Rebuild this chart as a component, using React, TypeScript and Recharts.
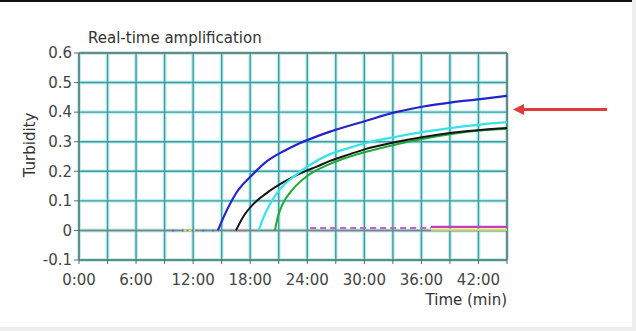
import { LineChart, Line, XAxis, YAxis, CartesianGrid, ReferenceLine } from "recharts";

// times in minutes, turbidity
const blueTime = [14.6, 15.6, 16.6, 18.1, 19.8, 21.5, 23.2, 25, 26.4, 30.1, 33.2, 36.2, 39.2, 42.2, 45];
const blueVals = [0, 0.072, 0.13, 0.184, 0.235, 0.268, 0.295, 0.318, 0.334, 0.37, 0.399, 0.419, 0.433, 0.444, 0.455];

const blackTime = [16.5, 17.3, 18.3, 19.8, 21.5, 23.2, 25, 26.4, 28.5, 30.1, 33.2, 36.2, 39.2, 42.2, 45];
const blackVals = [0, 0.048, 0.088, 0.128, 0.163, 0.192, 0.216, 0.235, 0.258, 0.275, 0.298, 0.316, 0.33, 0.34, 0.346];

const cyanTime = [18.9, 19.4, 20.1, 21.1, 22.5, 24.3, 26.4, 28.5, 30.1, 33.2, 36.2, 39.2, 42.2, 45];
const cyanVals = [0, 0.044, 0.09, 0.138, 0.18, 0.222, 0.258, 0.28, 0.295, 0.316, 0.333, 0.347, 0.358, 0.366];

const greenTime = [20.6, 20.9, 21.4, 22.5, 24, 25.7, 28.5, 30.1, 33.2, 36.2, 39.2, 42.2, 45];
const greenVals = [0, 0.045, 0.088, 0.14, 0.184, 0.215, 0.25, 0.265, 0.29, 0.31, 0.326, 0.338, 0.343];

// flat negative traces
const magentaDashTime = [24.3, 37];
const magentaDashVals = [0.008, 0.008];
const magentaTime = [37, 45];
const magentaVals = [0.012, 0.012];
const yellowTime = [37, 45];
const yellowVals = [0.002, 0.002];
const purpleDotTime = [9.8, 14.2];
const purpleDotVals = [0, 0];
const yellowDotTime = [11, 12.2];
const yellowDotVals = [0, 0];
const redDotTime = [16, 17.6];
const redDotVals = [0, 0];

const xTicks = [0, 3, 6, 9, 12, 15, 18, 21, 24, 27, 30, 33, 36, 39, 42, 45];
const xTickLabels = ["0:00", "", "6:00", "", "12:00", "", "18:00", "", "24:00", "", "30:00", "", "36:00", "", "42:00", ""];
const yTicks = [-0.1, 0, 0.1, 0.2, 0.3, 0.4, 0.5, 0.6];
const yTickLabels = ["-0.1", "0", "0.1", "0.2", "0.3", "0.4", "0.5", "0.6"];

const toRows = (ts: number[], vs: number[]) => ts.map((t, i) => ({ t, v: vs[i] }));

const font = "'DejaVu Sans', sans-serif";
const tickStyle = { fontFamily: font, fontSize: 15, fill: "#454545" };

export default function App() {
  return (
    <div style={{ position: "absolute", left: 0, top: 0, width: 636, height: 331, background: "#fff", overflow: "hidden" }}>
      <div style={{ position: "absolute", left: 0, top: 0, width: 636, height: 2, background: "#111" }} />
      <div style={{ position: "absolute", left: 632, top: 0, width: 4, height: 331, background: "#eee" }} />
      <div style={{ position: "absolute", left: 0, top: 327, width: 636, height: 4, background: "#eee" }} />
      <LineChart width={636} height={331} margin={{ top: 53, right: 129, bottom: 41, left: 19 }}>
        <CartesianGrid stroke="#c4eff0" strokeWidth={4} />
        <CartesianGrid stroke="#3c9a9c" strokeWidth={1.4} />
        <XAxis
          dataKey="t"
          type="number"
          domain={[0, 45]}
          ticks={xTicks}
          interval={0}
          tickFormatter={(t: number) => xTickLabels[xTicks.indexOf(t)]}
          tick={tickStyle}
          tickSize={4}
          tickMargin={10}
          height={30}
          stroke="#666"
          allowDuplicatedCategory={false}
        />
        <YAxis
          type="number"
          domain={[-0.1, 0.6]}
          ticks={yTicks}
          interval={0}
          tickFormatter={(v: number) => yTickLabels[yTicks.indexOf(v)]}
          tick={tickStyle}
          tickSize={5}
          tickMargin={2}
          width={60}
          stroke="#666"
        />
        <ReferenceLine y={0} stroke="#808080" strokeWidth={1.5} />
        <ReferenceLine y={0.6} stroke="#777" strokeWidth={1.5} />
        <ReferenceLine x={45} stroke="#777" strokeWidth={1.5} />
        <Line data={toRows(purpleDotTime, purpleDotVals)} dataKey="v" stroke="#8a5ad0" strokeWidth={2} strokeDasharray="2 8" dot={false} isAnimationActive={false} />
        <Line data={toRows(yellowDotTime, yellowDotVals)} dataKey="v" stroke="#e8d850" strokeWidth={2} strokeDasharray="3 2" dot={false} isAnimationActive={false} />
        <Line data={toRows(redDotTime, redDotVals)} dataKey="v" stroke="#e07070" strokeWidth={2} strokeDasharray="2 2" dot={false} isAnimationActive={false} />
        <Line data={toRows(yellowTime, yellowVals)} dataKey="v" stroke="#e8e050" strokeWidth={2} dot={false} isAnimationActive={false} />
        <Line data={toRows(magentaDashTime, magentaDashVals)} dataKey="v" stroke="#c860c8" strokeWidth={2} strokeDasharray="6 4" dot={false} isAnimationActive={false} />
        <Line data={toRows(magentaTime, magentaVals)} dataKey="v" stroke="#c040c8" strokeWidth={2.2} dot={false} isAnimationActive={false} />
        <Line data={toRows(greenTime, greenVals)} dataKey="v" type="monotone" stroke="#22a835" strokeWidth={2} dot={false} isAnimationActive={false} />
        <Line data={toRows(blackTime, blackVals)} dataKey="v" type="monotone" stroke="#151515" strokeWidth={2} dot={false} isAnimationActive={false} />
        <Line data={toRows(cyanTime, cyanVals)} dataKey="v" type="monotone" stroke="#38e2ea" strokeWidth={2.2} dot={false} isAnimationActive={false} />
        <Line data={toRows(blueTime, blueVals)} dataKey="v" type="monotone" stroke="#2424c8" strokeWidth={2.2} dot={false} isAnimationActive={false} />
      </LineChart>
      <svg width={636} height={331} style={{ position: "absolute", left: 0, top: 0, pointerEvents: "none" }}>
        <text x={88} y={43} fontFamily={font} fontSize={15} fill="#333">Real-time amplification</text>
        <text x={0} y={0} transform="translate(35,145) rotate(-90)" textAnchor="middle" fontFamily={font} fontSize={15} fill="#333">Turbidity</text>
        <text x={507} y={305} textAnchor="end" fontFamily={font} fontSize={15} fill="#333">Time (min)</text>
        <line x1={607} y1={109.5} x2={520} y2={109.5} stroke="#e03a3a" strokeWidth={3} />
        <polygon points="513,109.5 524,104 524,115" fill="#e03a3a" />
      </svg>
    </div>
  );
}
